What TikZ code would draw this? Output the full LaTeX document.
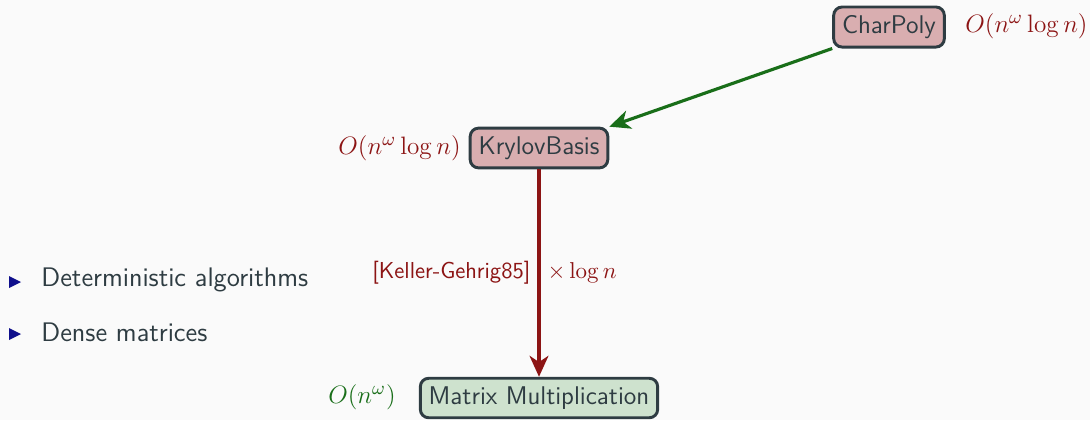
\documentclass[tikz,border=0pt]{standalone}
\usepackage{tikz}
\usetikzlibrary{arrows.meta}
\definecolor{slidebg}{RGB}{250,250,250}
\definecolor{slate}{RGB}{46,60,66}
\definecolor{darkred}{RGB}{140,20,20}
\definecolor{darkgreen}{RGB}{25,110,25}
\definecolor{bulletblue}{RGB}{15,15,140}
\definecolor{pinkfill}{RGB}{217,174,176}
\definecolor{greenfill}{RGB}{206,226,206}

\tikzset{
  algo/.style={draw=slate, line width=1.4pt, rounded corners=4pt, text=slate,
    font=\sffamily\fontsize{12.2}{14}\selectfont, inner sep=4pt, minimum height=18pt},
  cost/.style={text=darkred, font=\fontsize{12.2}{14}\selectfont},
  bullet/.style={fill=bulletblue, draw=none},
  item/.style={anchor=west, text=slate, font=\sffamily\fontsize{12.8}{15}\selectfont},
  reduce/.style={line width=1.5pt, -{Stealth[length=10pt,width=9pt,inset=3pt]}}
}

\begin{document}
\begin{tikzpicture}[x=0.01675cm, y=-0.01675cm]
\fill[slidebg] (0,0) rectangle (1090,420);
\useasboundingbox (0,0) rectangle (1090,420);

% the three algorithms
\node[algo, fill=pinkfill] (charpoly) at (889,27) {CharPoly};
\node[algo, fill=pinkfill] (krylov) at (539,148) {KrylovBasis};
\node[algo, fill=greenfill] (matmul) at (539,398) {Matrix Multiplication};

% costs
\node[cost, anchor=west] (costcp) at (958,26) {$O(n^\omega \log n)$};
\node[cost, anchor=east] (costkb) at (468,148) {$O(n^\omega \log n)$};
\node[cost, text=darkgreen, anchor=east] (costmm) at (403,397) {$O(n^\omega)$};

% reductions
\draw[reduce, darkgreen] (charpoly.south west) -- (krylov.north east);
\draw[reduce, darkred] (krylov) -- (matmul)
  node[pos=0.5, anchor=east, text=darkred, font=\sffamily\fontsize{11}{13}\selectfont] {[Keller-Gehrig85]}
  node[pos=0.5, anchor=west, cost, font=\fontsize{11.3}{13}\selectfont] {$\times \log n$};

% bullet list
\fill[bullet] (9,276) -- (21,282) -- (9,288) -- cycle;
\node[item] (det) at (34,280) {Deterministic algorithms};
\fill[bullet] (9,328) -- (21,334) -- (9,340) -- cycle;
\node[item] (dense) at (34,332) {Dense matrices};
\end{tikzpicture}
\end{document}
